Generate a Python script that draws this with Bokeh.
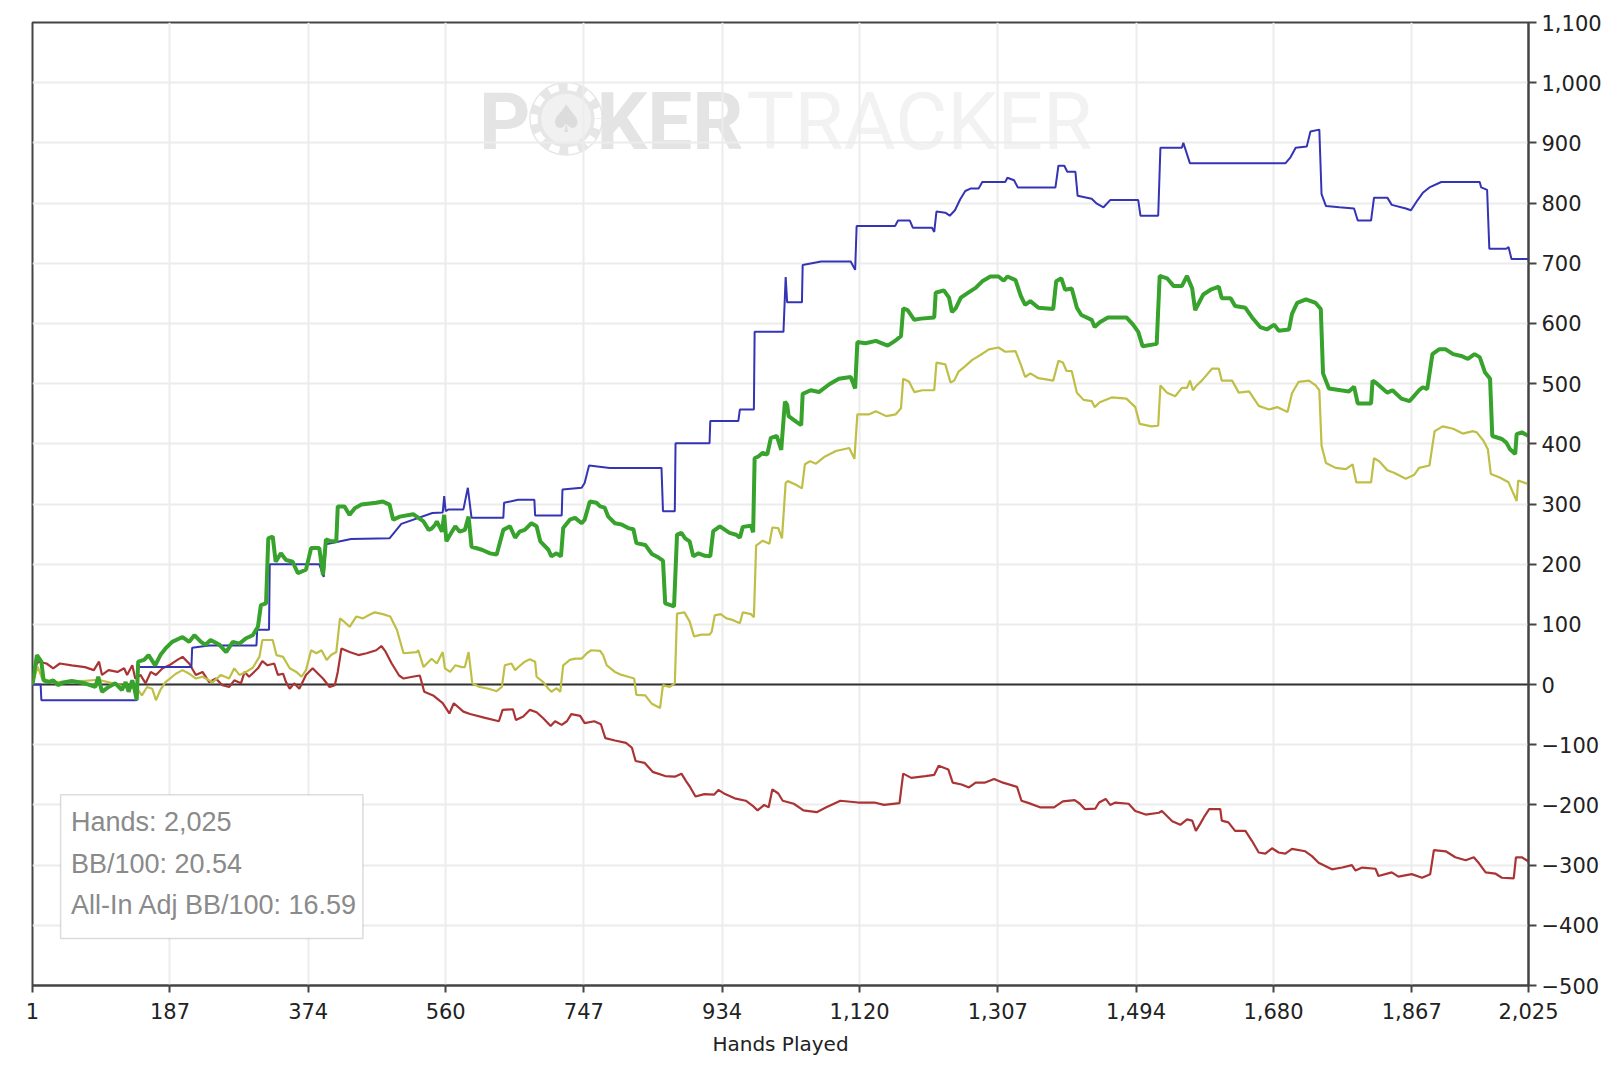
from bokeh.plotting import figure
from bokeh.models import (FixedTicker, CustomJSTickFormatter, Span, BoxAnnotation,
                          Label, Range1d)
from bokeh.core.properties import value
from bokeh.embed import file_html
from bokeh.resources import INLINE

# ---------------- data ----------------
X_TICKS = [1, 187, 374, 560, 747, 934, 1120, 1307, 1494, 1680, 1867, 2025]
Y_TICKS = list(range(-500, 1101, 100))

blue_hands = [1, 12, 13, 142, 143, 216, 217, 240, 304, 305, 321, 322, 389, 395, 398, 432, 484, 500,
              542, 556, 558, 560, 564, 584, 590, 595, 638, 639, 658, 680, 681, 717, 718, 744, 748, 754,
              782, 852, 854, 870, 871, 917, 918, 956, 958, 977, 978, 1017, 1020, 1022, 1042, 1043, 1068,
              1108, 1114, 1116, 1168, 1172, 1188, 1192, 1218, 1221, 1224, 1236, 1242, 1249, 1256, 1263,
              1270, 1281, 1286, 1317, 1320, 1329, 1334, 1385, 1389, 1397, 1401, 1412, 1415, 1434, 1441,
              1450, 1459, 1497, 1500, 1524, 1527, 1556, 1558, 1567, 1696, 1703, 1710, 1725, 1730, 1742,
              1745, 1751, 1769, 1789, 1794, 1812, 1816, 1834, 1840, 1859, 1866, 1875, 1882, 1891, 1907,
              1959, 1961, 1969, 1972, 1995, 1998, 2002, 2025]
blue_vals = [0, 0, -26, -26, 29, 29, 61, 65, 65, 91, 91, 200, 200, 179, 233, 242, 243, 267,
             285, 286, 313, 288, 291, 291, 327, 277, 277, 302, 307, 307, 281, 281, 324, 327, 335, 364,
             360, 360, 288, 288, 401, 401, 438, 438, 457, 457, 586, 586, 677, 635, 635, 697, 703,
             703, 689, 762, 762, 771, 771, 759, 759, 752, 786, 784, 779, 788, 806, 820,
             824, 824, 835, 835, 842, 838, 826, 826, 862, 862, 852, 852, 812, 807, 799,
             793, 805, 805, 779, 779, 892, 892, 900, 866, 866, 876, 892, 894, 919, 922,
             815, 795, 793, 791, 771, 771, 809, 809, 797, 791, 788, 805, 817, 826, 835,
             835, 826, 822, 724, 724, 727, 707, 707]

green_hands = [1, 7, 13, 16, 23, 29, 36, 41, 54, 68, 77, 86, 90, 95, 104, 113, 122, 127, 131, 136,
               139, 142, 144, 152, 158, 167, 174, 181, 190, 204, 213, 220, 229, 235, 242, 254, 263,
               272, 281, 290, 299, 306, 310, 317, 320, 326, 330, 337, 344, 353, 360, 371, 378, 389,
               394, 398, 405, 412, 414, 423, 430, 437, 446, 466, 475, 484, 489, 498, 516, 530, 537,
               541, 546, 548, 555, 558, 561, 566, 573, 579, 586, 591, 595, 609, 620, 629, 638, 647,
               654, 660, 667, 676, 683, 688, 699, 703, 710, 716, 719, 728, 735, 744, 748, 755, 764,
               769, 775, 780, 789, 798, 807, 814, 818, 830, 839, 848, 854, 857, 869, 873, 879, 884,
               890, 895, 902, 911, 918, 922, 931, 938, 944, 953, 958, 962, 973, 976, 978, 983, 989,
               995, 1000, 1008, 1014, 1019, 1022, 1024, 1034, 1041, 1043, 1054, 1065, 1079, 1092,
               1108, 1114, 1117, 1128, 1142, 1158, 1169, 1176, 1179, 1185, 1194, 1203, 1221, 1223,
               1234, 1241, 1245, 1250, 1257, 1268, 1277, 1286, 1297, 1308, 1315, 1320, 1331, 1338,
               1344, 1351, 1362, 1382, 1386, 1393, 1398, 1407, 1414, 1420, 1434, 1438, 1445, 1456,
               1481, 1490, 1497, 1503, 1522, 1526, 1536, 1545, 1556, 1563, 1570, 1574, 1579, 1585,
               1595, 1606, 1610, 1622, 1628, 1642, 1651, 1662, 1671, 1681, 1687, 1701, 1705, 1712,
               1724, 1737, 1744, 1747, 1755, 1771, 1782, 1789, 1794, 1812, 1814, 1819, 1834, 1841,
               1853, 1864, 1877, 1882, 1888, 1895, 1904, 1913, 1923, 1934, 1943, 1952, 1959, 1966,
               1973, 1976, 1989, 1995, 2000, 2007, 2009, 2016, 2025]
green_vals = [0, 49, 38, 7, 4, 7, -1, 3, 6, 3, 0, -4, 13, -12, -4, 2, -9, 4, -12, 7,
              -7, -26, 38, 41, 49, 32, 49, 60, 71, 79, 71, 82, 71, 66, 74, 66, 54,
              71, 68, 77, 82, 96, 132, 135, 243, 246, 204, 218, 207, 204, 185, 191, 227, 227,
              182, 241, 238, 238, 296, 296, 282, 293, 299, 302, 304, 299, 274, 279, 283, 271, 257,
              259, 266, 271, 254, 282, 238, 249, 263, 254, 257, 279, 229, 224, 218, 216, 257, 263,
              244, 254, 257, 268, 263, 238, 224, 213, 218, 213, 260, 274, 277, 268, 274, 304, 302,
              296, 294, 279, 268, 266, 260, 258, 235, 232, 217, 211, 206, 135, 130, 249, 252, 243,
              238, 213, 218, 214, 213, 255, 263, 257, 252, 249, 244, 262, 264, 253, 376, 379, 385,
              382, 410, 413, 390, 470, 465, 446, 437, 431, 483, 489, 486, 499, 508,
              511, 492, 569, 567, 571, 563, 572, 579, 625, 622, 606, 608, 610, 651,
              655, 643, 619, 625, 643, 652, 659, 670, 678, 678, 671, 678, 672, 646,
              631, 637, 626, 624, 670, 675, 656, 658, 626, 614, 606, 594, 602, 610,
              610, 598, 586, 562, 566, 679, 675, 662, 662, 679, 658, 622, 634, 648,
              656, 661, 642, 642, 629, 626, 610, 594, 590, 598, 588, 590, 616, 634,
              640, 634, 624, 517, 492, 489, 487, 495, 467, 467, 505, 501, 485, 489,
              475, 471, 489, 494, 491, 549, 557, 557, 549, 546, 541, 549, 544, 519,
              508, 413, 408, 402, 391, 383, 416, 419, 413]

red_hands = [1, 3, 9, 20, 29, 38, 54, 72, 84, 91, 95, 104, 116, 125, 129, 136, 140, 147, 154, 161,
             168, 177, 186, 197, 204, 213, 222, 231, 240, 249, 258, 267, 274, 283, 288, 294, 306,
             312, 319, 328, 333, 340, 344, 349, 355, 362, 371, 380, 385, 394, 403, 410, 414, 419,
             430, 442, 453, 466, 473, 478, 487, 497, 503, 515, 525, 531, 543, 556, 565, 571, 584,
             593, 612, 632, 637, 651, 655, 665, 674, 683, 692, 702, 708, 717, 724, 730, 742, 748,
             761, 770, 776, 789, 804, 812, 817, 829, 840, 857, 870, 879, 885, 891, 898, 910, 923,
             929, 938, 951, 966, 975, 982, 991, 997, 1002, 1010, 1016, 1031, 1044, 1062, 1075,
             1094, 1118, 1140, 1153, 1174, 1179, 1190, 1209, 1221, 1227, 1240, 1246, 1258, 1268,
             1277, 1289, 1302, 1314, 1333, 1339, 1349, 1364, 1383, 1395, 1411, 1418, 1425, 1439,
             1444, 1453, 1459, 1466, 1484, 1493, 1507, 1525, 1529, 1543, 1554, 1563, 1570, 1575,
             1581, 1587, 1593, 1608, 1610, 1619, 1628, 1642, 1651, 1660, 1669, 1678, 1687, 1696,
             1705, 1723, 1732, 1741, 1759, 1773, 1786, 1791, 1800, 1818, 1822, 1840, 1849, 1867,
             1881, 1892, 1897, 1913, 1926, 1940, 1951, 1958, 1967, 1980, 1989, 2005, 2008, 2016,
             2025]
red_vals = [0, 27, 38, 35, 27, 35, 32, 29, 24, 38, 16, 24, 21, 27, 16, 32, 10, 16, 2, 21,
            16, 27, 32, 41, 46, 35, 16, 21, 4, 10, -1, -4, 7, 2, 21, 13, 27,
            39, 32, 35, 16, 18, 4, -7, 2, -7, 16, 27, 21, 10, -4, -1, 21, 60,
            54, 49, 52, 57, 64, 56, 35, 15, 10, 13, 15, -12, -18, -31, -48, -31, -45,
            -49, -55, -61, -42, -41, -59, -53, -42, -46, -56, -69, -61, -67, -61, -49, -52, -64,
            -61, -66, -89, -93, -97, -105, -127, -130, -145, -152, -153, -148, -160, -171, -186, -182, -183,
            -175, -182, -189, -193, -201, -209, -200, -204, -174, -181, -193, -198, -209, -212, -204,
            -193, -196, -196, -200, -197, -148, -155, -152, -150, -135, -141, -163, -166, -171,
            -163, -163, -157, -163, -170, -193, -197, -204, -204, -194, -192, -198, -207, -206,
            -196, -190, -200, -196, -198, -210, -216, -213, -210, -227, -233, -224, -226, -243,
            -231, -218, -207, -207, -226, -229, -243, -243, -260, -279, -281, -272, -279, -281,
            -273, -277, -285, -296, -307, -304, -300, -309, -304, -306, -318, -312, -319, -315,
            -321, -315, -275, -277, -287, -292, -287, -297, -312, -314, -321, -322, -287, -287,
            -294]

yellow_hands = [1, 8, 14, 30, 60, 90, 110, 130, 143, 149, 156, 163, 168, 174, 181, 195, 204, 213,
                222, 231, 245, 256, 267, 274, 281, 290, 299, 308, 312, 326, 331, 340, 349, 358, 365,
                371, 378, 385, 392, 399, 405, 412, 417, 423, 430, 439, 448, 457, 464, 475, 485, 494,
                503, 521, 523, 530, 541, 548, 556, 559, 566, 573, 582, 586, 591, 596, 606, 618, 629,
                636, 640, 649, 654, 661, 667, 674, 681, 683, 692, 699, 703, 710, 715, 719, 728, 735,
                744, 751, 757, 769, 773, 778, 789, 798, 807, 815, 818, 830, 839, 850, 854, 863, 870,
                873, 883, 890, 896, 906, 917, 920, 924, 932, 940, 949, 958, 962, 973, 977, 980, 989,
                998, 1002, 1010, 1015, 1020, 1023, 1034, 1042, 1046, 1053, 1061, 1072, 1088, 1106,
                1113, 1117, 1133, 1142, 1156, 1169, 1176, 1179, 1187, 1194, 1205, 1221, 1224, 1236,
                1243, 1248, 1254, 1263, 1272, 1284, 1295, 1308, 1317, 1331, 1338, 1344, 1351, 1362,
                1382, 1389, 1395, 1400, 1407, 1414, 1423, 1434, 1438, 1445, 1461, 1481, 1493, 1499,
                1515, 1524, 1527, 1536, 1547, 1556, 1563, 1567, 1571, 1576, 1583, 1597, 1606, 1610,
                1624, 1633, 1647, 1660, 1674, 1685, 1699, 1705, 1714, 1728, 1737, 1742, 1745, 1751,
                1764, 1778, 1787, 1792, 1812, 1816, 1823, 1834, 1843, 1859, 1870, 1877, 1891, 1898,
                1909, 1923, 1936, 1950, 1955, 1964, 1970, 1974, 1986, 1998, 2004, 2009, 2011, 2025]
yellow_vals = [0, 30, 10, 4, 5, 8, 2, -5, -7, -18, -4, -7, -26, -9, 4, 18, 24, 18,
               10, 13, 4, 16, 10, 27, 16, 21, 28, 46, 74, 74, 49, 46, 27, 21, 13,
               24, 57, 52, 57, 41, 49, 54, 110, 104, 96, 113, 110, 116, 120, 117, 113, 91,
               52, 54, 57, 29, 43, 35, 54, 27, 21, 32, 29, 29, 54, 2, -4, -7, -11,
               -4, 32, 35, 24, 32, 38, 42, 38, 13, 4, -7, -12, -6, -12, 32, 41, 43,
               43, 52, 57, 56, 49, 32, 21, 16, 13, 10, -17, -18, -32, -39, -1, -4, 2,
               118, 120, 105, 80, 83, 83, 88, 115, 117, 110, 107, 102, 120, 117, 112, 231, 239,
               234, 261, 260, 243, 335, 338, 332, 326, 366, 371, 367, 378, 388, 393,
               375, 449, 449, 454, 446, 449, 459, 508, 503, 486, 489, 489, 535, 532,
               502, 505, 520, 529, 539, 548, 557, 560, 553, 554, 532, 511, 517, 509,
               505, 538, 535, 521, 521, 485, 473, 471, 461, 469, 477, 475, 461, 433,
               429, 430, 497, 485, 479, 493, 493, 505, 489, 497, 505, 525, 525, 505,
               505, 485, 487, 463, 457, 461, 453, 484, 503, 505, 497, 489, 397, 368,
               360, 358, 366, 336, 336, 376, 371, 356, 352, 342, 348, 360, 364, 421,
               429, 425, 417, 421, 419, 405, 391, 350, 344, 336, 319, 305, 339, 333]

INFO_LINES = ["Hands: 2,025", "BB/100: 20.54", "All-In Adj BB/100: 16.59"]

# ---------------- figure ----------------
p = figure(width=1608, height=1058, output_backend="svg", toolbar_location=None,
           x_range=Range1d(1, 2025), y_range=Range1d(-500, 1100),
           y_axis_location="right",
           min_border_left=32, min_border_right=80, min_border_top=22, min_border_bottom=73)
p.background_fill_color = "white"
p.border_fill_color = "white"
p.outline_line_color = "#444444"
p.outline_line_width = 2

AXIS_FONT = "DejaVu Sans"

xa = p.xaxis[0]
xa.ticker = FixedTicker(ticks=X_TICKS)
xa.formatter = CustomJSTickFormatter(code="return tick.toLocaleString('en-US');")
xa.axis_label = "Hands Played"
xa.axis_label_text_font = AXIS_FONT
xa.axis_label_text_font_size = "20px"
xa.axis_label_text_font_style = "normal"
xa.axis_label_text_color = "#222222"
xa.axis_label_standoff = 10
xa.major_label_text_font = AXIS_FONT
xa.major_label_text_font_size = "21px"
xa.major_label_text_color = "#222222"
xa.major_label_standoff = 10
xa.major_tick_out = 7
xa.major_tick_in = 0
xa.major_tick_line_width = 2
xa.major_tick_line_color = "#444444"
xa.minor_tick_line_color = None
xa.axis_line_color = "#444444"
xa.axis_line_width = 2

ya = p.yaxis[0]
ya.ticker = FixedTicker(ticks=Y_TICKS)
ya.formatter = CustomJSTickFormatter(
    code="return (tick < 0 ? '\u2212' : '') + Math.abs(tick).toLocaleString('en-US');")
ya.major_label_text_font = AXIS_FONT
ya.major_label_text_font_size = "21px"
ya.major_label_text_color = "#222222"
ya.major_label_standoff = 5
ya.major_tick_out = 8
ya.major_tick_in = 0
ya.major_tick_line_width = 2
ya.major_tick_line_color = "#444444"
ya.minor_tick_line_color = None
ya.axis_line_color = "#444444"
ya.axis_line_width = 2

p.xgrid.grid_line_color = "#ececec"
p.xgrid.grid_line_width = 2
p.ygrid.grid_line_color = "#ececec"
p.ygrid.grid_line_width = 2

# ---------------- watermark ----------------
WM_Y = 935
WM_FONT = value("Roboto")
WM_SIZE = "80px"
p.text(x=[605], y=[WM_Y], text=["P"], text_font=WM_FONT, text_font_size=WM_SIZE,
       text_font_style="bold", text_color="#e4e4e4", text_baseline="alphabetic", level="image")
p.scatter(x=[723], y=[940], size=74, marker="circle", fill_color="#e6e6e6", line_color=None,
          level="image")
p.scatter(x=[723], y=[940], size=64, marker="circle", fill_color=None, line_color="white",
          line_width=7, line_dash="10 9", level="image")
p.scatter(x=[723], y=[940], size=50, marker="circle", fill_color="#f1f1f1", line_color=None,
          level="image")
p.text(x=[723], y=[940], text=["\u2660"], text_font=value("DejaVu Sans"), text_font_size="38px",
       text_color="#dcdcdc", text_align="center", text_baseline="middle", level="image")
p.text(x=[764], y=[WM_Y], text=["KER"], text_font=WM_FONT, text_font_size=WM_SIZE,
       text_font_style="bold", text_color="#e4e4e4", text_baseline="alphabetic", level="image")
p.text(x=[967], y=[WM_Y], text=["TRACKER"], text_font=WM_FONT, text_font_size=WM_SIZE,
       text_color="#f2f2f2", text_baseline="alphabetic", level="image")

# zero line
p.add_layout(Span(location=0, dimension="width", line_color="#333333", line_width=2,
                  level="underlay"))

# ---------------- series ----------------
p.line(red_hands, red_vals, line_color="#aa3434", line_width=2.2)
p.line(yellow_hands, yellow_vals, line_color="#bfbf48", line_width=2.2)
p.line(blue_hands, blue_vals, line_color="#3434b4", line_width=2)
p.line(green_hands, green_vals, line_color="#37a22c", line_width=4)

# ---------------- info box ----------------
p.add_layout(BoxAnnotation(left=39, right=448, top=-183, bottom=-422, fill_color="white",
                           fill_alpha=1.0, line_color="#8c8c8c", line_width=1.5))
for i, t in enumerate(INFO_LINES):
    p.add_layout(Label(x=53, y=-229 - i * 68.5, text=t, text_font="Liberation Sans",
                       text_font_size="27px", text_color="#8a8a8a",
                       text_baseline="alphabetic"))

open("out.html", "w").write(file_html(p, INLINE))
